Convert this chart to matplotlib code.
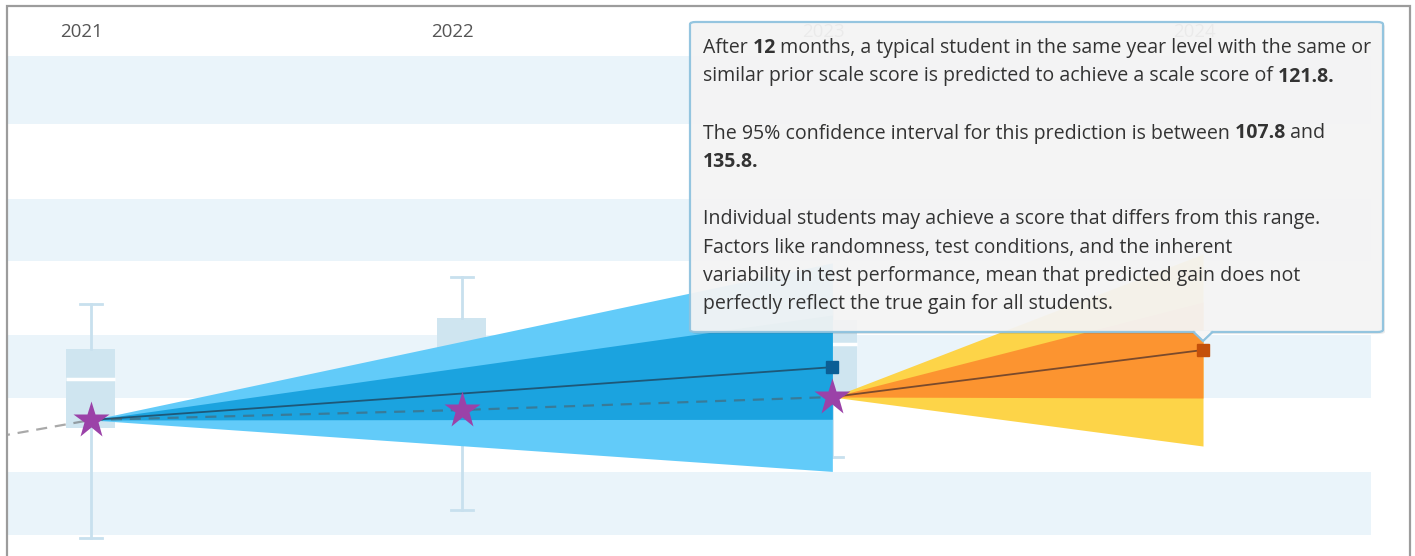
import matplotlib
matplotlib.use("Agg")
import matplotlib.pyplot as plt
from matplotlib.patches import FancyBboxPatch, Rectangle, Polygon

# ---------------- data ----------------
years = [2021, 2022, 2023, 2024]
year_labels = ["2021", "2022", "2023", "2024"]

# observed scale scores (purple stars); 2020 point lies off the left edge
obs_years = [2020, 2021, 2022, 2023]
obs_scores = [102.0, 111.6, 113.05, 114.95]

# prediction fan 2021 -> 2023 (blue)
blue_years = [2021, 2023]
blue_pred = [111.6, 119.3]
blue_inner_lo = [111.6, 111.7]
blue_inner_hi = [111.6, 126.9]
blue_outer_lo = [111.6, 104.1]
blue_outer_hi = [111.6, 134.5]

# prediction fan 2023 -> 2024 (orange)
orange_years = [2023, 2024]
orange_pred = [114.95, 121.8]
orange_inner_lo = [114.95, 114.8]
orange_inner_hi = [114.95, 128.8]
orange_outer_lo = [114.95, 107.8]
orange_outer_hi = [114.95, 135.8]

# cohort box plots
box_years = [2021, 2022, 2023]
box_whislo = [94.4, 98.5, 106.2]
box_q1 = [110.4, 114.5, 114.8]
box_med = [117.6, 121.1, 122.7]
box_q3 = [121.9, 126.5, 126.2]
box_whishi = [128.5, 132.4, 129.1]

# background score bands
band_lo = [94.8, 114.8, 134.8, 154.7]
band_hi = [104.0, 124.0, 143.8, 164.7]

tooltip_lines = [
    [("After", False), (" 12", True), (" months, a typical student in the same year level with the same or", False)],
    [("similar prior scale score is predicted to achieve a scale score of", False), (" 121.8.", True)],
    [],
    [("The 95% confidence interval for this prediction is between", False), (" 107.8", True), (" and", False)],
    [("135.8.", True)],
    [],
    [("Individual students may achieve a score that differs from this range.", False)],
    [("Factors like randomness, test conditions, and the inherent", False)],
    [("variability in test performance, mean that predicted gain does not", False)],
    [("perfectly reflect the true gain for all students.", False)],
]

# ---------------- layout ----------------
W, H = 1415, 556
fig = plt.figure(figsize=(W / 100, H / 100), dpi=100)
fig.patch.set_facecolor("white")

PX_PER_YEAR = 370.67
PX_PER_UNIT = 6.86
AX_L, AX_R, AX_T = 8, 1409, 7
ax = fig.add_axes([AX_L / W, 0, (AX_R - AX_L) / W, 1 - AX_T / H])
ax.set_xlim(2021 - (91 - AX_L) / PX_PER_YEAR, 2021 + (AX_R - 91) / PX_PER_YEAR)
ax.set_ylim(121.8 - (H - 350) / PX_PER_UNIT, 121.8 + (350 - AX_T) / PX_PER_UNIT)
ax.axis("off")

band_xmax = (1371 - AX_L) / (AX_R - AX_L)
for lo, hi in zip(band_lo, band_hi):
    ax.axhspan(lo, hi, xmin=0, xmax=band_xmax, color="#EAF4FA", lw=0, zorder=0)

# box plots
stats = []
for i in range(len(box_years)):
    stats.append(dict(whislo=box_whislo[i], q1=box_q1[i], med=box_med[i],
                      q3=box_q3[i], whishi=box_whishi[i], fliers=[]))
ax.bxp(stats, positions=box_years, widths=49 / PX_PER_YEAR, capwidths=22 / PX_PER_YEAR,
       patch_artist=True, showfliers=False, manage_ticks=False, zorder=1,
       boxprops=dict(facecolor="#CFE5F0", edgecolor="none", lw=0),
       whiskerprops=dict(color="#C8E0EE", lw=2),
       capprops=dict(color="#C8E0EE", lw=2),
       medianprops=dict(color="white", lw=2.5))

# fans
ax.fill_between(blue_years, blue_outer_lo, blue_outer_hi, color="#62CBF9", lw=0, zorder=2)
ax.fill_between(blue_years, blue_inner_lo, blue_inner_hi, color="#1BA3DF", lw=0, zorder=3)
ax.fill_between(orange_years, orange_outer_lo, orange_outer_hi, color="#FDD448", lw=0, zorder=2)
ax.fill_between(orange_years, orange_inner_lo, orange_inner_hi, color="#FC9430", lw=0, zorder=3)

# prediction lines
ax.plot(blue_years, blue_pred, color="#1E5878", lw=1.3, zorder=4)
ax.plot(orange_years, orange_pred, color="#7A4A2C", lw=1.3, zorder=4)
ax.plot(blue_years[1:], blue_pred[1:], "s", color="#0B5E95", ms=8.5, zorder=6)
ax.plot(orange_years[1:], orange_pred[1:], "s", color="#C4500A", ms=8.5, zorder=6)

# observed trajectory
ax.plot(obs_years, obs_scores, color="#555555", alpha=0.5, lw=1.6, ls=(0, (5, 3.5)), zorder=5)
ax.plot(obs_years[1:], obs_scores[1:], "*", color="#9B42A8", ms=28, mec="none", zorder=7)

# year labels
for yr, lab in zip(years, year_labels):
    ax.annotate(lab, xy=(yr, 1), xycoords=("data", "axes fraction"),
                xytext=(-9, -25), textcoords="offset pixels",
                ha="center", va="center", fontsize=13.5, color="#555555",
                family="Open Sans", zorder=1)

# outer frame
fig.patches.append(Rectangle((7 / W, -0.1), (1410 - 7) / W, 1.1 - 6 / H,
                             transform=fig.transFigure, fill=False,
                             ec="#9C9C9C", lw=1.6, zorder=10))


def fx(x):
    return x / W


def fy(y):
    return 1 - y / H


# tooltip
TL, TT, TR, TB = 690, 22, 1383, 332
shadow = FancyBboxPatch((fx(TL + 2), fy(TB + 2)), (TR - TL) / W, (TB - TT) / H,
                        boxstyle="round,pad=0,rounding_size=0.004",
                        transform=fig.transFigure, fc="#000000", ec="none",
                        alpha=0.08, zorder=19)
fig.patches.append(shadow)
tip = FancyBboxPatch((fx(TL), fy(TB)), (TR - TL) / W, (TB - TT) / H,
                     boxstyle="round,pad=0,rounding_size=0.004",
                     transform=fig.transFigure, fc="#F5F5F5", ec="#8EC2DE",
                     lw=1.6, alpha=0.94, zorder=20)
fig.patches.append(tip)
# pointer
ptr = Polygon([(fx(1193), fy(TB - 0.5)), (fx(1203), fy(341)), (fx(1213), fy(TB - 0.5))],
              closed=False, transform=fig.transFigure, fc="#F5F5F5", ec="#8EC2DE",
              lw=1.6, zorder=21)
fig.patches.append(ptr)
fig.patches.append(Polygon([(fx(1194.5), fy(TB - 1.5)), (fx(1203), fy(339)), (fx(1211.5), fy(TB - 1.5))],
                           closed=True, transform=fig.transFigure, fc="#F5F5F5", ec="none",
                           zorder=22))

renderer = fig.canvas.get_renderer()
FONT = "Open Sans"
probe = fig.text(0, 0, "After 12 months, a typical student in the same year level with the same or",
                 fontsize=10, family=FONT)
w10 = probe.get_window_extent(renderer).width
probe.remove()
fs = 10 * 669 / w10

x0 = 703
base0 = 53
step = 28.5
for i, runs in enumerate(tooltip_lines):
    x = x0
    yb = base0 + i * step
    for txt, bold in runs:
        t = fig.text(fx(x), fy(yb), txt, fontsize=fs, family=FONT,
                     fontweight="bold" if bold else "normal", color="#333333",
                     ha="left", va="baseline", zorder=30)
        x += t.get_window_extent(renderer).width

fig.savefig("out.png", dpi=100)
